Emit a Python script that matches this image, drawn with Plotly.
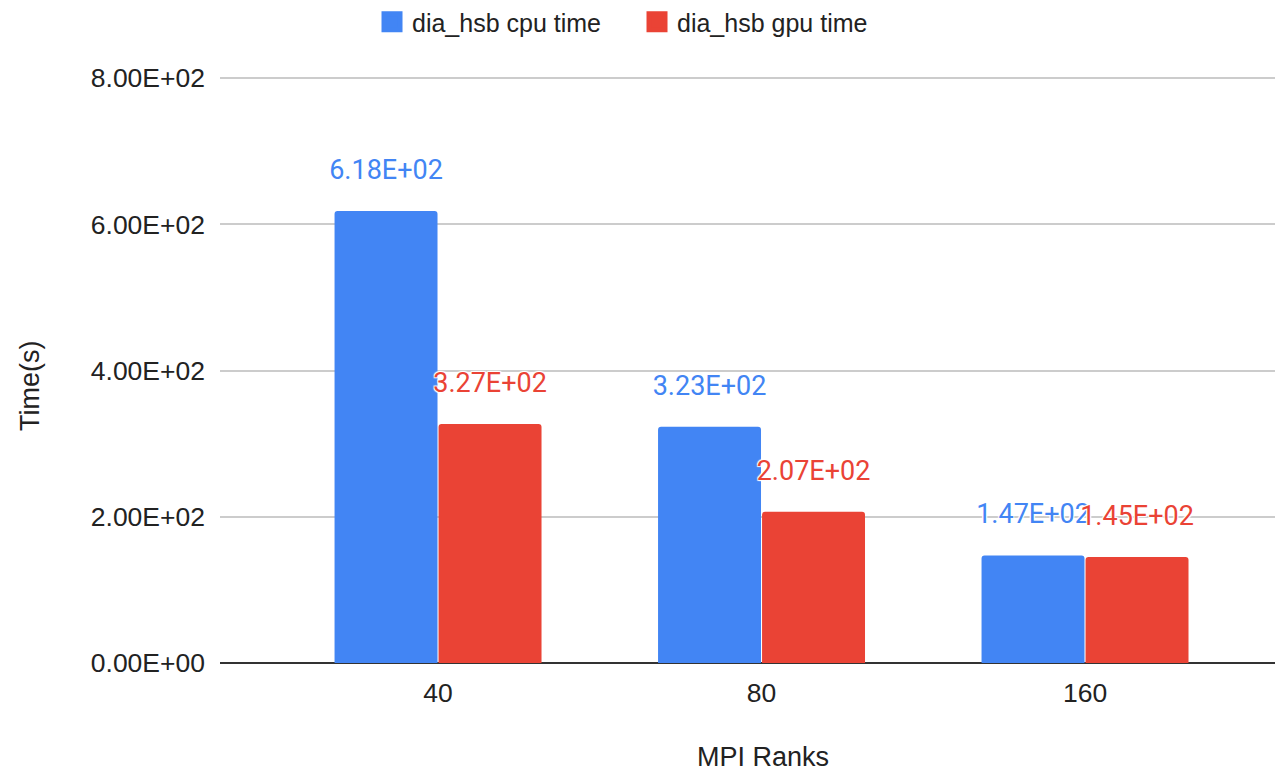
import plotly.graph_objects as go

categories = ["40", "80", "160"]
cpu_time = [618, 323, 147]
gpu_time = [327, 207, 145]
cpu_labels = ["6.18E+02", "3.23E+02", "1.47E+02"]
gpu_labels = ["3.27E+02", "2.07E+02", "1.45E+02"]
y_ticks = [0, 200, 400, 600, 800]
y_ticklabels = ["0.00E+00", "2.00E+02", "4.00E+02", "6.00E+02", "8.00E+02"]
series_names = ["dia_hsb cpu time", "dia_hsb gpu time"]
x_title = "MPI Ranks"
y_title = "Time(s)"

BLUE = "#4285f4"
RED = "#ea4335"
AX_FONT = "Liberation Sans, Arial, sans-serif"
LBL_FONT = "Roboto, sans-serif"
shadow = "1px 1px 1px white, -1px -1px 1px white, 1px -1px 1px white, -1px 1px 1px white"

fig = go.Figure()
fig.add_trace(go.Bar(name=series_names[0], x=categories, y=cpu_time, offsetgroup="cpu",
                     showlegend=False,
                     marker=dict(color=BLUE, cornerradius=3, line=dict(width=0))))
fig.add_trace(go.Bar(name=series_names[1], x=categories, y=gpu_time, offsetgroup="gpu",
                     showlegend=False,
                     marker=dict(color=RED, cornerradius=3, line=dict(width=0))))

# data labels (scatter text aligned with the bar groups)
fig.add_trace(go.Scatter(x=categories, y=cpu_time, text=cpu_labels, offsetgroup="cpu",
                         mode="markers+text", textposition="top center",
                         marker=dict(size=39, opacity=0), showlegend=False, hoverinfo="skip",
                         textfont=dict(family=LBL_FONT, size=27, color=BLUE, shadow=shadow)))
fig.add_trace(go.Scatter(x=categories, y=gpu_time, text=gpu_labels, offsetgroup="gpu",
                         mode="markers+text", textposition="top center",
                         marker=dict(size=39, opacity=0), showlegend=False, hoverinfo="skip",
                         textfont=dict(family=LBL_FONT, size=27, color=RED, shadow=shadow)))

# legend entries with larger square swatches
for name, col, grp in zip(series_names, [BLUE, RED], ["cpu", "gpu"]):
    fig.add_trace(go.Scatter(x=[None], y=[None], name=name, mode="markers", offsetgroup=grp,
                             marker=dict(symbol="square", size=16, color=col,
                                         line=dict(color=col, width=5)),
                             hoverinfo="skip"))

# axis titles
fig.add_annotation(text=x_title, xref="paper", yref="paper", x=0.511, y=-0.160,
                   xanchor="center", yanchor="middle", showarrow=False,
                   font=dict(family=AX_FONT, size=27, color="#222222"))
fig.add_annotation(text=y_title, xref="paper", yref="paper", x=-0.1787, y=0.471,
                   xanchor="center", yanchor="middle", showarrow=False, textangle=-90,
                   font=dict(family=AX_FONT, size=27, color="#222222"))

fig.update_layout(
    width=1283, height=774,
    margin=dict(l=212, r=8, t=67, b=119, autoexpand=False),
    paper_bgcolor="white", plot_bgcolor="white",
    barmode="group", bargap=0.357, bargroupgap=0.01,
    scattermode="group", scattergap=0.357,
    font=dict(family=AX_FONT, size=26, color="#222222"),
    showlegend=True,
    legend=dict(orientation="h", x=0.143, xanchor="left", y=1.090, yanchor="middle",
                font=dict(family=AX_FONT, size=25, color="#222222"),
                itemsizing="trace",
                entrywidth=220, entrywidthmode="pixels"),
    xaxis=dict(type="category", range=[-0.674, 2.612], showgrid=False,
               showline=False, ticks="", tickfont=dict(size=26.5), ticklabelstandoff=11,
               automargin=False),
    yaxis=dict(range=[0, 804.1], tickvals=y_ticks, ticktext=y_ticklabels,
               showgrid=True, gridcolor="#cccccc", gridwidth=1.5,
               zeroline=True, zerolinecolor="#333333", zerolinewidth=2,
               showline=False, ticks="", ticklabelstandoff=14, automargin=False,
               tickfont=dict(size=26.5)),
)

fig.write_html("out.html")
